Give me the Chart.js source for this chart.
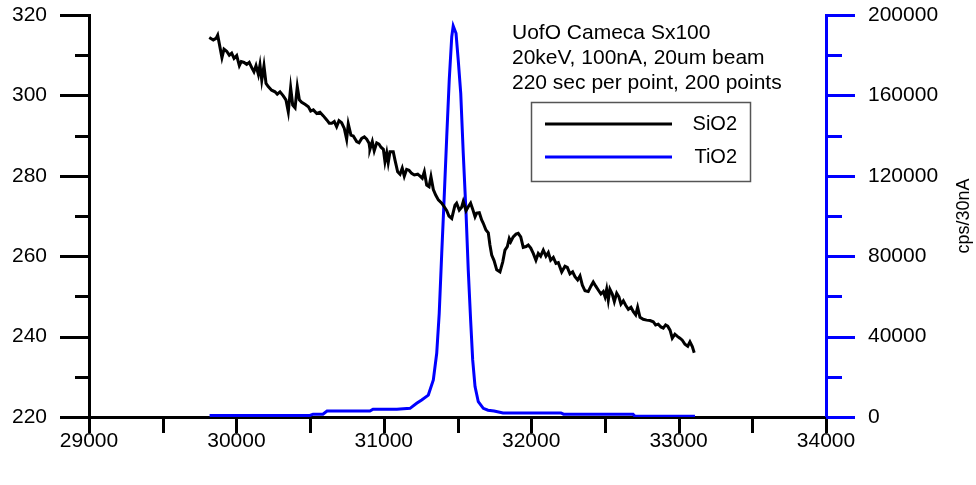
<!DOCTYPE html>
<html><head><meta charset="utf-8">
<script src="https://cdn.jsdelivr.net/npm/chart.js@4/dist/chart.umd.min.js"></script>
<style>html,body{margin:0;padding:0;background:#fff;}#wrap{width:976px;height:485px;}</style>
</head><body><div id="wrap"><canvas id="c" width="976" height="485"></canvas></div>
<script>
// ---- data ----
const sio2X = [29816,29843,29862,29873,29902,29916,29934,29952,29968,29984,30002,30020,30033,30052,30070,30087,30104,30119,30133,30149,30160,30172,30187,30201,30216,30239,30262,30277,30296,30318,30336,30352,30368,30382,30398,30413,30427,30443,30465,30488,30504,30522,30545,30567,30590,30613,30630,
30647,30664,30680,30696,30714,30732,30748,30759,30777,30793,30816,30832,30850,30868,30884,30900,30906,30922,30935,30952,30967,30981,30997,31008,31020,31030,31042,31064,31076,31094,31110,31125,31139,31155,31171,31189,31207,31230,31246,31261,31275,31291,31307,31320,31336,31352,31370,31393,31410,31427,31442,31461,
31483,31494,31512,31528,31539,31558,31573,31589,31603,31619,31630,31648,31664,31675,31693,31709,31720,31732,31748,31766,31788,31807,31822,31838,31851,31861,31878,31897,31912,31929,31946,31965,31980,31997,32014,32032,32048,32064,32082,32100,32116,32132,32150,32168,32184,32207,32229,32245,32263,32281,32297,
32315,32331,32347,32365,32387,32406,32421,32437,32455,32473,32489,32501,32512,32523,32534,32550,32564,32580,32595,32609,32625,32641,32659,32677,32693,32709,32722,32738,32760,32783,32806,32828,32844,32862,32880,32896,32912,32926,32942,32957,32975,32994,33009,33025,33043,33062,33077,33093,33106];
const sio2Y = [314.4,313.8,314.2,315.0,309.4,311.5,311.0,310.0,310.5,309.2,309.9,307.4,308.4,308.2,307.7,308.2,306.9,305.9,307.4,305.2,307.6,303.8,307.4,303.0,302.2,301.3,300.9,300.3,300.9,299.9,298.9,295.9,301.9,297.6,296.9,302.2,298.9,298.3,297.8,297.2,296.1,296.4,295.5,295.8,294.9,293.9,293.1,
293.1,293.5,292.2,293.7,293.2,291.8,289.1,292.9,290.1,289.9,288.5,288.2,289.3,289.7,289.1,288.1,286.6,288.5,286.2,288.2,287.9,287.1,286.6,283.5,285.7,283.3,286.0,286.0,283.9,281.0,280.4,281.9,279.9,281.6,281.4,280.6,280.2,280.4,279.9,279.4,281.0,277.7,277.3,279.8,276.6,275.2,274.0,273.2,272.3,271.3,270.0,269.4,
272.7,273.2,271.5,272.2,273.6,271.3,272.3,273.2,271.7,269.8,270.7,270.8,269.0,268.2,266.5,265.8,262.8,260.3,258.9,256.6,256.1,258.6,261.5,262.4,264.4,263.6,264.8,265.5,265.7,264.8,262.2,262.4,262.8,262.0,260.7,259.0,260.7,260.0,261.5,260.0,260.9,259.0,259.7,258.2,258.4,256.1,257.5,257.2,255.6,256.1,254.9,
254.1,255.1,252.8,251.4,251.2,252.6,253.6,252.6,251.6,250.6,251.2,249.9,251.8,249.1,251.8,250.6,248.7,250.8,249.9,248.1,248.9,247.8,246.8,247.3,246.2,245.4,247.3,244.8,244.3,244.1,244.0,243.7,242.9,243.1,242.4,242.1,242.9,242.6,241.6,239.6,240.6,240.0,239.6,239.1,238.1,237.6,238.7,237.5,236.0];
const tio2X = [29818,30499,30520,30587,30615,30906,30927,31089,31110,31178,31223,31257,31302,31336,31359,31376,31393,31408,31427,31444,31461,31471,31490,31505,31522,31539,31558,31573,31589,31603,31619,31641,31675,31707,31748,31809,32202,32219,32691,32704,33111];
const tio2Y = [800,800,1400,1400,3000,3000,3900,3900,4000,4300,6800,8500,10900,18400,31700,51600,81400,106300,139500,167700,189200,194500,190900,177600,161000,131200,101300,73100,48300,28400,15100,7600,4300,3400,3000,2000,2000,1400,1400,400,400];
const seriesNames = ['SiO2', 'TiO2'];
const noteLines = ['UofO Cameca Sx100', '20keV, 100nA, 20um beam', '220 sec per point, 200 points'];
const rightTitle = 'cps/30nA';
const xRange = [29000, 34000], xStep = 500, xLabelEvery = 1000;
const yRange = [220, 320], yStep = 10, yLabelEvery = 20;
const y2Range = [0, 200000], y2Step = 20000, y2LabelEvery = 40000;

const FONT = '"Liberation Sans", Arial, sans-serif';
const BLUE = '#0000ff';

const decor = {
  id: 'decor',
  afterDraw(chart) {
    const {ctx, chartArea: a, scales} = chart;
    ctx.save();
    ctx.lineWidth = 3;
    ctx.lineCap = 'butt';
    ctx.strokeStyle = '#000';
    scales.x.ticks.forEach(t => {
      const px = Math.round(scales.x.getPixelForValue(t.value)) + 0.5;
      ctx.beginPath(); ctx.moveTo(px, a.bottom); ctx.lineTo(px, a.bottom + 16); ctx.stroke();
    });
    scales.y.ticks.forEach(t => {
      const py = Math.round(scales.y.getPixelForValue(t.value)) + 0.5;
      const len = (t.value % yLabelEvery === 0) ? 29 : 14;
      ctx.beginPath(); ctx.moveTo(a.left, py); ctx.lineTo(a.left - len, py); ctx.stroke();
    });
    ctx.strokeStyle = BLUE;
    scales.y2.ticks.forEach(t => {
      const py = Math.round(scales.y2.getPixelForValue(t.value)) + 0.5;
      const len = (t.value % y2LabelEvery === 0) ? 29 : 16;
      ctx.beginPath(); ctx.moveTo(a.right, py); ctx.lineTo(a.right + len, py); ctx.stroke();
    });
    ctx.fillStyle = '#000';
    ctx.font = '18px ' + FONT;
    ctx.save();
    ctx.translate(964, 216);
    ctx.rotate(-Math.PI / 2);
    ctx.textAlign = 'center'; ctx.textBaseline = 'middle';
    ctx.fillText(rightTitle, 0, 0);
    ctx.restore();
    ctx.font = '21px ' + FONT;
    ctx.textAlign = 'left'; ctx.textBaseline = 'middle';
    noteLines.forEach((s, i) => ctx.fillText(s, 512, 33 + i * 25));
    ctx.lineWidth = 1.5; ctx.strokeStyle = '#555';
    ctx.strokeRect(531.5, 102.5, 219, 79);
    chart.data.datasets.forEach((ds, i) => {
      const yy = 124 + i * 33;
      ctx.strokeStyle = ds.borderColor; ctx.lineWidth = 3;
      ctx.beginPath(); ctx.moveTo(545, yy); ctx.lineTo(672, yy); ctx.stroke();
      ctx.fillStyle = '#000'; ctx.font = '20px ' + FONT;
      ctx.textAlign = 'right'; ctx.textBaseline = 'middle';
      ctx.fillText(ds.label, 737, yy);
    });
    ctx.restore();
  }
};

new Chart(document.getElementById('c'), {
  type: 'line',
  data: {
    datasets: [
      { label: seriesNames[0], data: sio2X.map((x, i) => ({x, y: sio2Y[i]})), yAxisID: 'y',
        borderColor: '#000000', borderWidth: 3, pointRadius: 0, tension: 0, fill: false },
      { label: seriesNames[1], data: tio2X.map((x, i) => ({x, y: tio2Y[i]})), yAxisID: 'y2',
        borderColor: BLUE, borderWidth: 3, pointRadius: 0, tension: 0, fill: false }
    ]
  },
  options: {
    responsive: false, animation: false, devicePixelRatio: 1,
    layout: { padding: { top: 15, left: 0, right: 0, bottom: 0 } },
    plugins: { legend: { display: false }, tooltip: { enabled: false } },
    scales: {
      x: {
        type: 'linear', min: xRange[0], max: xRange[1],
        afterFit: s => { s.height = 68; s.paddingLeft = 0; s.paddingRight = 0; },
        grid: { display: false, drawTicks: false },
        border: { display: true, color: '#000', width: 3 },
        ticks: { stepSize: xStep, autoSkip: false, maxRotation: 0, padding: 12, color: '#000',
          font: { family: FONT, size: 21 },
          callback: v => (v % xLabelEvery === 0 ? String(v) : '') }
      },
      y: {
        position: 'left', min: yRange[0], max: yRange[1],
        afterFit: s => { s.width = 89; s.paddingTop = 0; s.paddingBottom = 0; },
        grid: { display: false, drawTicks: false },
        border: { display: true, color: '#000', width: 3 },
        ticks: { stepSize: yStep, padding: 42, color: '#000',
          font: { family: FONT, size: 21 },
          callback: v => (v % yLabelEvery === 0 ? String(v) : '') }
      },
      y2: {
        position: 'right', min: y2Range[0], max: y2Range[1],
        afterFit: s => { s.width = 150; s.paddingTop = 0; s.paddingBottom = 0; },
        grid: { display: false, drawTicks: false },
        border: { display: true, color: BLUE, width: 3 },
        ticks: { stepSize: y2Step, padding: 42, color: '#000',
          font: { family: FONT, size: 21 },
          callback: v => (v % y2LabelEvery === 0 ? String(v) : '') }
      }
    }
  },
  plugins: [decor]
});
</script></body></html>
